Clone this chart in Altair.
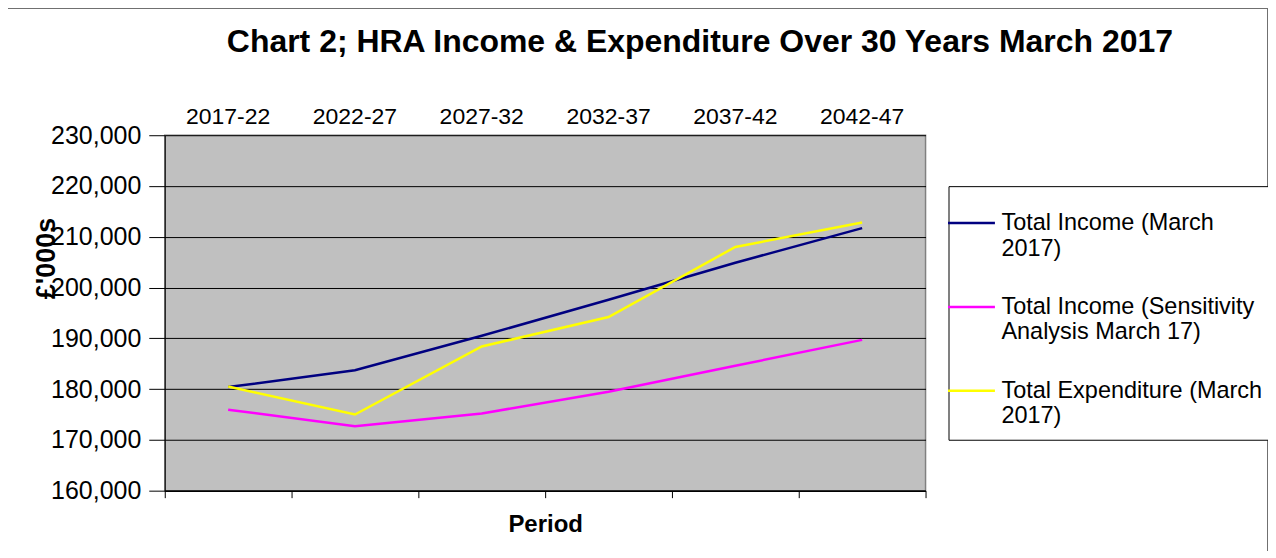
import altair as alt
import pandas as pd

periods = ["2017-22", "2022-27", "2027-32", "2032-37", "2037-42", "2042-47"]
series_names = [
    "Total Income (March 2017)",
    "Total Income (Sensitivity Analysis March 17)",
    "Total Expenditure (March 2017)",
]
income = [180400, 183700, 190500, 197600, 204900, 211700]
sensitivity = [175950, 172700, 175200, 179500, 184600, 189700]
expenditure = [180500, 175000, 188400, 194200, 208000, 212800]
y_ticks = [160000, 170000, 180000, 190000, 200000, 210000, 220000, 230000]
colors = ["#000080", "#FF00FF", "#FFFF00"]

rows = []
for name, vals in zip(series_names, [income, sensitivity, expenditure]):
    for p, v in zip(periods, vals):
        rows.append({"Period": p, "Series": name, "Value": v})
df = pd.DataFrame(rows)

W, H = 762, 356
FONT = "Liberation Sans"

label_expr = (
    "datum.label == 'Total Income (March 2017)' ? ['Total Income (March', '2017)'] : "
    "datum.label == 'Total Income (Sensitivity Analysis March 17)' ? ['Total Income (Sensitivity', 'Analysis March 17)'] : "
    "['Total Expenditure (March', '2017)']"
)

base = alt.Chart(df)

lines = base.mark_line(strokeWidth=2.5).encode(
    x=alt.X(
        "Period:N",
        sort=periods,
        scale=alt.Scale(paddingInner=0, paddingOuter=0),
        axis=alt.Axis(
            orient="top",
            title=None,
            ticks=False,
            domain=False,
            labelAngle=0,
            labelFont=FONT,
            labelFontSize=23,
            labelColor="black",
            labelPadding=7,
        ),
    ),
    y=alt.Y(
        "Value:Q",
        scale=alt.Scale(domain=[160000, 230000], nice=False, zero=False),
        axis=alt.Axis(
            values=y_ticks,
            labelExpr="format(datum.value, ',')",
            title="£'000s",
            titleFont=FONT,
            titleFontSize=27,
            titleFontWeight="bold",
            titleColor="black",
            titleAngle=-90,
            titleX=-118,
            titleY=123,
            titleAlign="center",
            titleBaseline="middle",
            labelFont=FONT,
            labelFontSize=25,
            labelColor="black",
            tickSize=16,
            tickColor="black",
            labelPadding=8,
            domainColor="black",
            gridColor="black",
            gridWidth=1,
        ),
    ),
    color=alt.Color(
        "Series:N",
        sort=series_names,
        scale=alt.Scale(domain=series_names, range=colors),
        legend=alt.Legend(
            title=None,
            orient="none",
            legendX=785,
            legendY=51,
            symbolType="stroke",
            symbolSize=2209,
            symbolStrokeWidth=2.5,
            symbolOffset=-14,
            labelExpr=label_expr,
            labelFont=FONT,
            labelFontSize=23.5,
            labelColor="black",
            labelLimit=400,
            labelOffset=5,
            rowPadding=22,
            padding=12,
            strokeColor="black",
            fillColor="white",
        ),
    ),
)

bottom = base.mark_point(opacity=0).encode(
    x=alt.X(
        "Period:N",
        sort=periods,
        axis=alt.Axis(
            orient="bottom",
            title="Period",
            titleFont=FONT,
            titleFontSize=24,
            titleFontWeight="bold",
            titleColor="black",
            titlePadding=14,
            labels=False,
            ticks=True,
            tickBand="extent",
            tickSize=7,
            tickColor="black",
            domainColor="black",
            domainWidth=1.5,
        ),
    ),
)

frame = base.mark_rect(fill="transparent", fillOpacity=0, stroke="#707070", strokeWidth=2).encode(
    x=alt.value(-158), x2=alt.value(W + 343), y=alt.value(-128), y2=alt.value(H + 80)
)

chart = (
    alt.layer(frame, lines, bottom)
    .resolve_axis(x="independent")
    .properties(
        width=W,
        height=H,
        view=alt.ViewBackground(fill="#C0C0C0", stroke="#808080", strokeWidth=1.5),
        autosize=alt.AutoSizeParams(type="none"),
        padding={"left": 157, "top": 127, "right": 343, "bottom": 60},
        title=alt.TitleParams(
            "Chart 2; HRA Income & Expenditure Over 30 Years March 2017",
            font=FONT,
            fontSize=32,
            fontWeight="bold",
            color="black",
            anchor="middle",
            dx=155,
            dy=73,
            offset=20,
        ),
    )
    .configure_view(fill="#C0C0C0", stroke="#808080", strokeWidth=1.5)
    .configure(background="white")
)

chart.save("out.html", embed_options={"renderer": "svg", "actions": False})
